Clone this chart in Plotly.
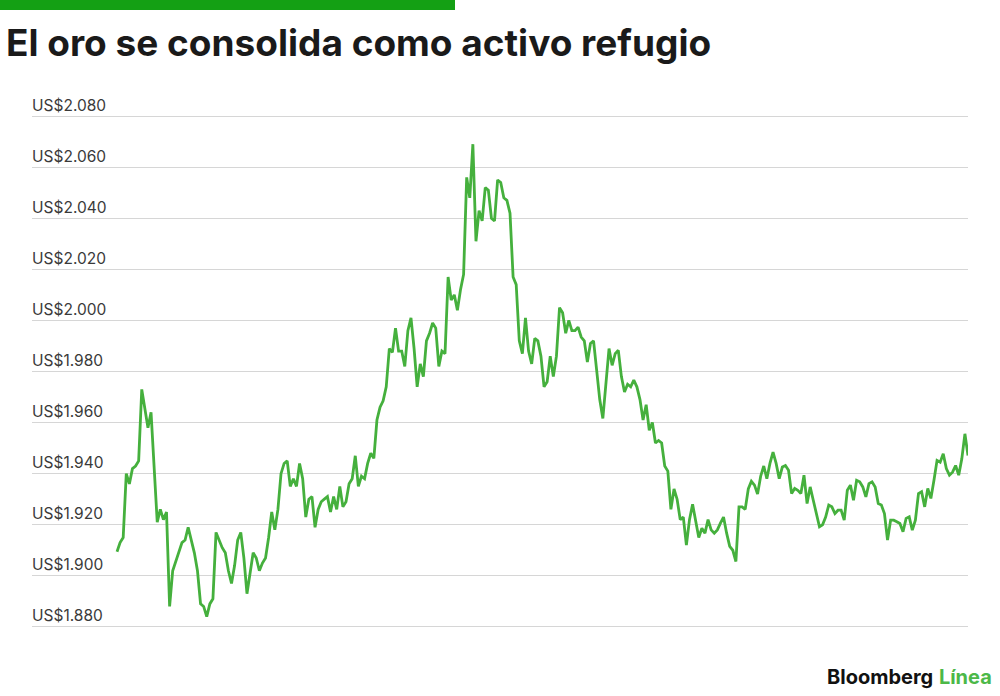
import plotly.graph_objects as go

# precio del oro (US$ por onza), de izquierda a derecha
precio_oro = [
    1909.4, 1913, 1915, 1940, 1936, 1942, 1943, 1945, 1973, 1966, 1958, 1964,
    1943, 1921, 1926, 1922, 1925, 1888, 1902, 1906, 1910, 1913, 1914, 1919,
    1914, 1909, 1902, 1889, 1888, 1884, 1889, 1891, 1917, 1914, 1911, 1909,
    1902, 1897, 1904, 1914, 1917, 1907, 1893, 1901, 1909, 1907, 1902, 1905,
    1907, 1915, 1925, 1918, 1926, 1940, 1944, 1945, 1935, 1938, 1935, 1944,
    1938, 1923, 1930, 1931, 1919, 1926, 1929, 1930, 1931, 1925, 1931, 1926,
    1935, 1927, 1929, 1936, 1938, 1947, 1935, 1939, 1938, 1944, 1948, 1946,
    1961, 1966,
    1968.5, 1974, 1989, 1987.5, 1997, 1988, 1988, 1982, 1996, 2001, 1989, 1974,
    1983, 1978, 1992, 1995, 1999, 1997, 1982, 1988, 1987, 2017, 2008, 2010,
    2004, 2012, 2018, 2056, 2048, 2069, 2031, 2043, 2039, 2052, 2051, 2040,
    2039, 2055, 2054, 2048, 2047, 2042, 2017, 2014, 1992, 1987, 2001, 1988,
    1983, 1993, 1992, 1986, 1974, 1976, 1986, 1978, 1986, 2005, 2003, 1995,
    2000, 1996,
    1996, 1997.4, 1993.5, 1992, 1983.7, 1991, 1992, 1980.5, 1969, 1961.6, 1975,
    1989, 1982.4, 1987, 1988.3, 1978, 1972, 1975, 1974, 1976.6, 1974, 1969,
    1961, 1967, 1957, 1960, 1952, 1953, 1952, 1943, 1941, 1926, 1934, 1930,
    1922, 1923, 1912, 1922, 1928, 1922, 1915, 1918.6, 1916.7, 1922, 1918,
    1916.7, 1918, 1920.6, 1923, 1916.7, 1911.5, 1910, 1905.6, 1927, 1927, 1926,
    1934, 1937, 1935.5, 1932, 1939, 1943,
    1938, 1944, 1948.4, 1944, 1938, 1942.6, 1943.2, 1941.3, 1932.2, 1934.2,
    1933.5, 1932.2, 1939.4, 1928.3, 1934.8, 1929.6, 1924.4, 1919.2, 1920, 1923,
    1927.7, 1927, 1924.4, 1925.7, 1925.7, 1921.8, 1933.5, 1935.5, 1929.6,
    1937.4, 1936.8, 1934.8, 1930.9, 1936.1, 1936.8, 1934.8, 1928.3, 1927.7,
    1924.4, 1914, 1921.8, 1921.8, 1921.2, 1920.5, 1917.3, 1922.5, 1923.1,
    1917.9, 1921.8, 1932.2, 1932.9, 1927, 1934.2, 1930.3, 1937.4, 1945.2,
    1944.5, 1947.8, 1942, 1939.4, 1940.6, 1943.2, 1939.4, 1945.8, 1955.6, 1947.1,
]

ticks_y = [1880, 1900, 1920, 1940, 1960, 1980, 2000, 2020, 2040, 2060, 2080]
etiquetas_y = ["US$" + f"{v:,}".replace(",", ".") for v in ticks_y]

titulo = "El oro se consolida como activo refugio"

W, H = 1000, 696
ML, MR, MT, MB = 32, 32, 111, 64


def px_x(p):
    return (p - ML) / (W - ML - MR)


def px_y(p):
    return (H - MB - p) / (H - MT - MB)


n = len(precio_oro)
dias = list(range(n))
# hueco a la izquierda antes de que empiece la serie
frac_izq = px_x(117)
x_ini = -(n - 1) * frac_izq / (1 - frac_izq)

fig = go.Figure()
fig.add_trace(go.Scatter(
    x=dias, y=precio_oro, mode="lines",
    line=dict(color="#45b03d", width=2.8),
    hoverinfo="skip", showlegend=False))

fig.update_layout(
    width=W, height=H,
    margin=dict(l=ML, r=MR, t=MT, b=MB),
    paper_bgcolor="white", plot_bgcolor="white",
    font=dict(family="Inter, Roboto, sans-serif", color="#444"),
    title=dict(text="<b>" + titulo + "</b>", xref="container", x=0.006,
               y=1 - 43 / H, yanchor="middle", xanchor="left",
               font=dict(size=37, color="#1a1a1a", family="Inter", weight=900)),
    xaxis=dict(range=[x_ini, n - 1], showgrid=False, zeroline=False,
               showline=False, showticklabels=False, ticks=""),
    yaxis=dict(range=[1878, 2082], tickvals=ticks_y, ticktext=etiquetas_y,
               ticklabelposition="inside top", ticklabeloverflow="allow",
               ticklabelstandoff=-3,
               tickfont=dict(size=15.5, color="#3a3a3a"),
               showgrid=True, gridcolor="#d6d6d6", gridwidth=1.3,
               zeroline=False, showline=False, ticks=""),
)

# barra verde superior
fig.add_shape(type="rect", xref="paper", yref="paper",
              x0=px_x(0), x1=px_x(455), y0=px_y(10), y1=px_y(-2),
              fillcolor="#14a014", line=dict(width=0), layer="above")

# firma
fig.add_annotation(
    text="<b>Bloomberg</b> <b><span style='color:#4cb848'>Línea</span></b>",
    xref="paper", yref="paper", x=px_x(994), y=px_y(677),
    xanchor="right", yanchor="middle", showarrow=False,
    font=dict(size=20, color="#111", family="Inter"))

fig.write_html("out.html", config={"displayModeBar": False},
               post_script="document.body.style.margin='0';")
